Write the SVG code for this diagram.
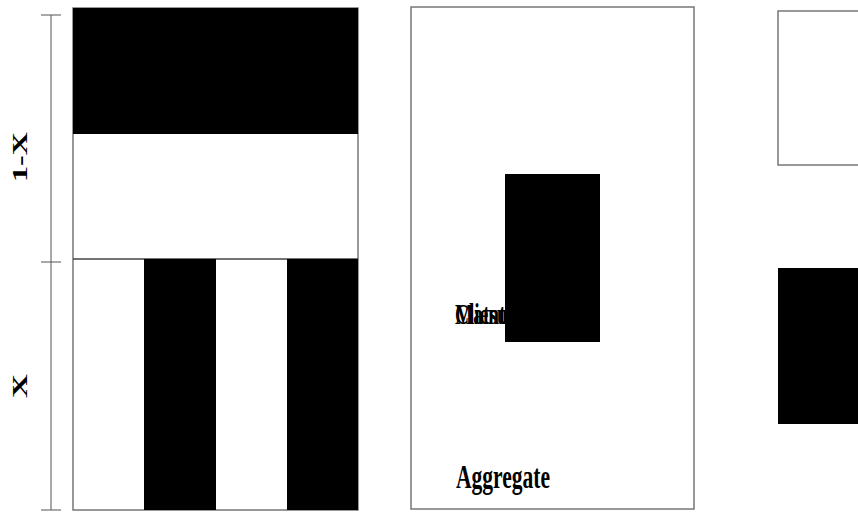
<svg xmlns="http://www.w3.org/2000/svg" width="858" height="514" viewBox="0 0 858 514">
<style>
.frame{fill:#fff;stroke:#777;stroke-width:1.5}
.blk{fill:#000}
.scale{stroke:#555;stroke-width:1;fill:none}
.lbl{font-family:"Liberation Serif",serif;font-weight:bold;fill:#000}
.txt{font-family:"Liberation Serif",serif;font-weight:bold;fill:#000}
</style>
<rect width="858" height="514" fill="#fff"/>
<g id="scale">
<line class="scale" x1="51" y1="15" x2="51" y2="510"/>
<line class="scale" x1="41" y1="15" x2="61" y2="15"/>
<line class="scale" x1="41" y1="262" x2="61" y2="262"/>
<line class="scale" x1="41" y1="510" x2="61" y2="510"/>
<text class="lbl" font-size="22" text-anchor="middle" transform="translate(27,157) rotate(-90)" textLength="50" lengthAdjust="spacingAndGlyphs">1-X</text>
<text class="lbl" font-size="22" text-anchor="middle" transform="translate(27,386) rotate(-90)" textLength="24" lengthAdjust="spacingAndGlyphs">X</text>
</g>
<g id="left-panel">
<rect class="frame" x="73" y="8" width="285" height="502"/>
<rect class="blk" x="73" y="8" width="285" height="126"/>
<line x1="73" y1="259" x2="358" y2="259" stroke="#444" stroke-width="1.5"/>
<rect class="blk" x="144" y="259" width="72" height="251"/>
<rect class="blk" x="287" y="259" width="71" height="251"/>
</g>
<g id="middle-panel">
<rect class="frame" x="411" y="7" width="283" height="502"/>
<text class="txt" font-size="30" x="455" y="324" textLength="58" lengthAdjust="spacingAndGlyphs">Clients</text>
<text class="txt" font-size="30" x="455" y="324" textLength="58" lengthAdjust="spacingAndGlyphs">Matsui</text>
<rect class="blk" x="505" y="174" width="95" height="168"/>
<text class="txt" font-size="33" x="456" y="488" textLength="94" lengthAdjust="spacingAndGlyphs">Aggregate</text>
</g>
<g id="right-panel">
<rect class="frame" x="778" y="11" width="90" height="154" stroke="#222"/>
<rect class="blk" x="778" y="268" width="90" height="156"/>
</g>
</svg>
